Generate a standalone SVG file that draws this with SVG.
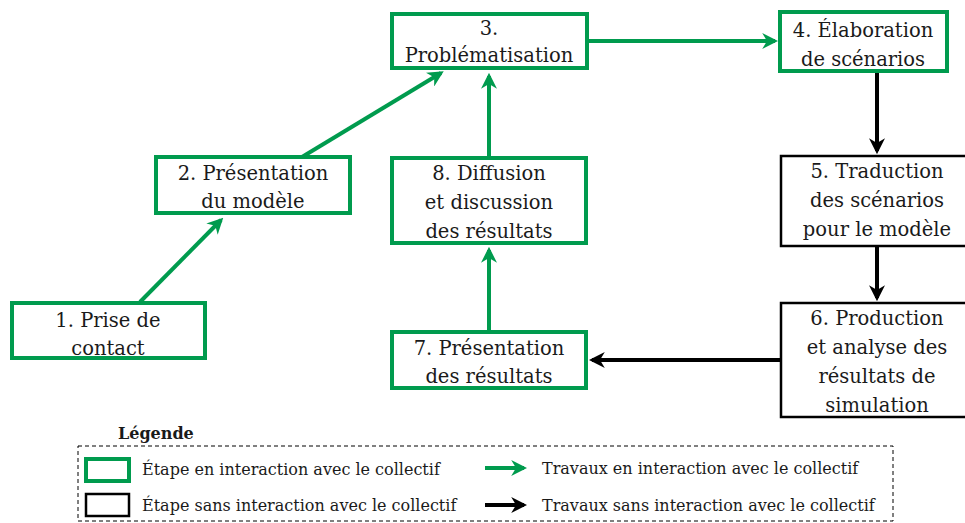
<svg xmlns="http://www.w3.org/2000/svg" width="965" height="523" viewBox="0 0 965 523">
<defs>
<style>
.g{fill:#fff;stroke:#009B4E;stroke-width:4}
.k{fill:#fff;stroke:#000;stroke-width:2.5}
.t{font-family:'DejaVu Serif','Liberation Serif',serif;font-size:19.5px;fill:#1a1a1a;text-anchor:middle}
.l{font-family:'DejaVu Serif','Liberation Serif',serif;font-size:16px;fill:#1a1a1a}
.ag{stroke:#009B4E;stroke-width:4;fill:none;marker-end:url(#mg)}
.ak{stroke:#000;stroke-width:4;fill:none;marker-end:url(#mk)}
</style>
<marker id="mg" viewBox="0 0 10 10" refX="8" refY="5" markerWidth="4" markerHeight="4" orient="auto" markerUnits="strokeWidth">
<path d="M0,0 L10,5 L0,10 L3,5 Z" fill="#009B4E"/>
</marker>
<marker id="mk" viewBox="0 0 10 10" refX="8" refY="5" markerWidth="4" markerHeight="4" orient="auto" markerUnits="strokeWidth">
<path d="M0,0 L10,5 L0,10 L3,5 Z" fill="#000"/>
</marker>
</defs>
<rect width="965" height="523" fill="#fff"/>
<g id="connectors">
<line class="ag" x1="140" y1="302" x2="221" y2="220"/>
<line class="ag" x1="302" y1="157" x2="441" y2="73"/>
<line class="ag" x1="489" y1="157" x2="489" y2="76"/>
<line class="ag" x1="489" y1="331" x2="489" y2="250"/>
<line class="ag" x1="588" y1="41" x2="775" y2="41"/>
<line class="ak" x1="877" y1="72" x2="877" y2="151"/>
<line class="ak" x1="877" y1="247" x2="877" y2="298"/>
<line class="ak" x1="780" y1="360" x2="592" y2="360"/>
</g>
<g id="n1"><rect class="g" x="12" y="303" width="193" height="55"/><text class="t" x="108" y="327">1. Prise de</text><text class="t" x="108" y="355">contact</text></g>
<g id="n2"><rect class="g" x="156" y="157" width="194" height="56"/><text class="t" x="253" y="180">2. Présentation</text><text class="t" x="253" y="208">du modèle</text></g>
<g id="n3"><rect class="g" x="392" y="14" width="195" height="54"/><text class="t" x="489" y="35">3.</text><text class="t" x="489" y="62">Problématisation</text></g>
<g id="n4"><rect class="g" x="780" y="12" width="167" height="59"/><text class="t" x="863" y="37">4. Élaboration</text><text class="t" x="863" y="66">de scénarios</text></g>
<g id="n5"><rect class="k" x="781" y="156" width="186" height="90"/><text class="t" x="877" y="178">5. Traduction</text><text class="t" x="877" y="207">des scénarios</text><text class="t" x="877" y="236">pour le modèle</text></g>
<g id="n6"><rect class="k" x="781" y="303" width="186" height="114"/><text class="t" x="877" y="325">6. Production</text><text class="t" x="877" y="354">et analyse des</text><text class="t" x="877" y="383">résultats de</text><text class="t" x="877" y="412">simulation</text></g>
<g id="n7"><rect class="g" x="392" y="332" width="194" height="56"/><text class="t" x="489" y="355">7. Présentation</text><text class="t" x="489" y="383">des résultats</text></g>
<g id="n8"><rect class="g" x="392" y="158" width="194" height="85"/><text class="t" x="489" y="180">8. Diffusion</text><text class="t" x="489" y="209">et discussion</text><text class="t" x="489" y="238">des résultats</text></g>
<g id="legend">
<text class="l" x="118" y="439" font-weight="bold">Légende</text>
<rect x="78" y="446" width="815" height="75" fill="none" stroke="#000" stroke-width="1" stroke-dasharray="4,3"/>
<rect class="g" x="86" y="459" width="43" height="22"/>
<text class="l" x="142" y="475">Étape en interaction avec le collectif</text>
<rect class="k" x="86" y="494" width="43" height="22"/>
<text class="l" x="142" y="511">Étape sans interaction avec le collectif</text>
<line class="ag" x1="485" y1="468" x2="524" y2="468"/>
<text class="l" x="542" y="474">Travaux en interaction avec le collectif</text>
<line class="ak" x1="485" y1="505" x2="524" y2="505"/>
<text class="l" x="542" y="511">Travaux sans interaction avec le collectif</text>
</g>
</svg>
